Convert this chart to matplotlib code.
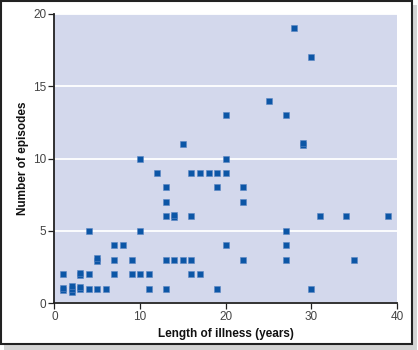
import matplotlib.pyplot as plt
from matplotlib.patches import Rectangle

plt.rcParams['font.family'] = ['Liberation Sans Narrow', 'Liberation Sans', 'DejaVu Sans']

# length of illness (years) vs number of episodes
years = [1, 1, 1, 2, 2, 2, 3, 3, 3, 3, 4, 4, 4, 5, 5, 5, 6,
         7, 7, 7, 8, 9, 9, 10, 10, 10, 11, 11, 12,
         13, 13, 13, 13, 13, 14, 14, 14, 15, 15, 16, 16, 16, 16,
         17, 17, 18, 19, 19, 19, 20, 20, 20, 20, 22, 22, 22, 25,
         27, 27, 27, 27, 28, 29, 29, 30, 30, 31, 34, 35, 39]
episodes = [0.9, 1.05, 2, 0.75, 1.0, 1.2, 0.95, 1.1, 1.95, 2.05, 1, 2, 5, 1, 2.9, 3.1, 1,
            2, 3, 4, 4, 2, 3, 2, 5, 10, 1, 2, 9,
            1, 3, 6, 7, 8, 3, 5.93, 6.07, 3, 11, 2, 3, 6, 9,
            2, 9, 9, 1, 8, 9, 4, 9, 10, 13, 3, 7, 8, 14,
            3, 4, 5, 13, 19, 10.9, 11.1, 1, 17, 6, 6, 3, 6]

xticks = [0, 10, 20, 30, 40]
yticks = [0, 5, 10, 15, 20]

fig = plt.figure(figsize=(4.18, 3.5), dpi=100)

# outer frame with a soft shadow
fig.patches.append(Rectangle((4 / 418, 0.5 / 350), 413 / 418, 345 / 350, transform=fig.transFigure,
                             facecolor='#d4d4d4', edgecolor='none', zorder=0))
fig.patches.append(Rectangle((1 / 418, 6 / 350), 411 / 418, 343 / 350, transform=fig.transFigure,
                             facecolor='white', edgecolor='#222222', linewidth=1.5, zorder=1))

ax = fig.add_axes([54.5 / 418, 1 - 303 / 350, 342.5 / 418, 289 / 350])
ax.set_facecolor('#d3d8ec')
ax.set_zorder(2)

ax.scatter(years, episodes, marker='s', s=13, color='#0c56a6', edgecolors='#5a86c4',
           linewidths=0.4, zorder=3, clip_on=False)

ax.set_xlim(0, 40)
ax.set_ylim(0, 20)
ax.set_xticks(xticks)
ax.set_yticks(yticks)
ax.yaxis.grid(True, color='white', linewidth=1.3)
ax.set_axisbelow(True)

for s in ['top', 'right']:
    ax.spines[s].set_visible(False)
for s in ['left', 'bottom']:
    ax.spines[s].set_linewidth(1.3)
    ax.spines[s].set_color('#222222')
ax.tick_params(length=4, width=0.9, color='#222222', labelsize=8.5, labelcolor='#444444', pad=2)

ax.set_xlabel('Length of illness (years)', fontsize=8.5, fontweight='bold', color='#111111', labelpad=3)
ax.set_ylabel('Number of episodes', fontsize=8.5, fontweight='bold', color='#111111', labelpad=3)

fig.savefig('out.png', dpi=100)
